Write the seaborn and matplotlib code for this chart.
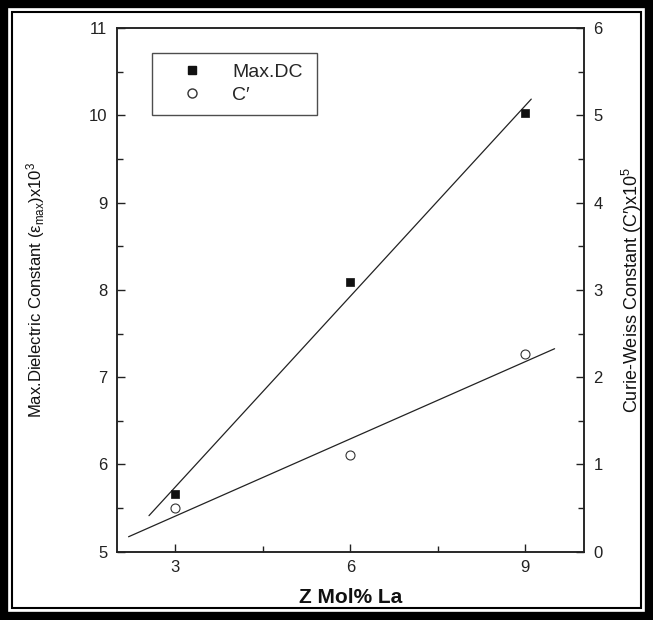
import numpy as np
import pandas as pd
import seaborn as sns
import matplotlib
matplotlib.use("Agg")
import matplotlib.pyplot as plt
from matplotlib.patches import Rectangle
from matplotlib.lines import Line2D

# ---- data ----
mol_la = [3, 6, 9]
max_dc = [5.66, 8.09, 10.03]          # left axis, x10^3
curie_c = [0.50, 1.11, 2.27]          # right axis, x10^5
fit_range_dc = [2.55, 9.1]            # extent of drawn fit line (x)
fit_range_c = [2.2, 9.5]

x_ticks = [3, 6, 9]
left_ticks = [5, 6, 7, 8, 9, 10, 11]
right_ticks = [0, 1, 2, 3, 4, 5, 6]

sns.set_style("ticks")
plt.rcParams["font.family"] = ["Liberation Sans", "DejaVu Sans"]
plt.rcParams["mathtext.default"] = "regular"

fig = plt.figure(figsize=(6.53, 6.2), dpi=100)
ax = fig.add_axes([0.179, 0.110, 0.715, 0.845])
ax2 = ax.twinx()

df_dc = pd.DataFrame({"x": mol_la, "y": max_dc})
df_c = pd.DataFrame({"x": mol_la, "y": curie_c})

# least-squares fit lines
k1, b1 = np.polyfit(mol_la, max_dc, 1)
k2, b2 = np.polyfit(mol_la, curie_c, 1)
fx1 = np.array(fit_range_dc)
fx2 = np.array(fit_range_c)
sns.lineplot(x=fx1, y=k1 * fx1 + b1, ax=ax, color="#222222", lw=0.9)
sns.lineplot(x=fx2, y=k2 * fx2 + b2, ax=ax2, color="#222222", lw=0.9)

sns.scatterplot(data=df_dc, x="x", y="y", ax=ax, marker="s", s=34,
                color="#111111", edgecolor="#111111", linewidth=0.5, zorder=5)
sns.scatterplot(data=df_c, x="x", y="y", ax=ax2, marker="o", s=42,
                facecolor="white", edgecolor="#333333", linewidth=0.8, zorder=5)

ax.set_xlim(2, 10)
ax.set_ylim(5, 11)
ax2.set_ylim(0, 6)
ax.set_xticks(x_ticks)
ax.set_xticks([4.5, 7.5], minor=True)
ax.set_yticks(left_ticks)
ax.set_yticks(np.arange(5.5, 11, 1.0), minor=True)
ax2.set_yticks(right_ticks)
ax2.set_yticks(np.arange(0.5, 6, 1.0), minor=True)

for a in (ax, ax2):
    for s in a.spines.values():
        s.set_linewidth(1.1)
        s.set_color("#222222")
    a.tick_params(which="major", direction="in", length=6, width=1.0,
                  labelsize=12, colors="#222222", pad=7)
    a.tick_params(which="minor", direction="in", length=4.5, width=1.0,
                  colors="#222222")
ax.tick_params(axis="x", pad=6)

ax.set_xlabel("Z Mol% La", fontsize=15, fontweight="bold", labelpad=9,
              color="#111111")
ax.set_ylabel("Max.Dielectric Constant (ε$_{max}$)x10$^{3}$", fontsize=12,
              labelpad=30, color="#111111")
ax2.set_ylabel("Curie-Weiss Constant (C′)x10$^{5}$", fontsize=13,
               labelpad=12, color="#111111")

handles = [
    Line2D([], [], marker="s", ls="none", color="#111111", markersize=6),
    Line2D([], [], marker="o", ls="none", markerfacecolor="white",
           markeredgecolor="#333333", markersize=6.5),
]
leg = ax.legend(handles, ["Max.DC", "C′"], loc="upper left",
                bbox_to_anchor=(0.075, 0.953, 0.353, 0.0), mode="expand",
                frameon=True, fancybox=False, edgecolor="#222222",
                fontsize=14, handlelength=3.0, handletextpad=0.57,
                borderpad=0.55, labelspacing=0.3, borderaxespad=0)
leg.get_frame().set_linewidth(1.0)

# decorative double frame around the picture
fig.patches.append(Rectangle((4 / 653, 4 / 620), 1 - 8 / 653, 1 - 8 / 620,
                             transform=fig.transFigure, fill=False,
                             edgecolor="black", lw=6.0))
fig.patches.append(Rectangle((12 / 653, 12 / 620), 1 - 24 / 653, 1 - 24 / 620,
                             transform=fig.transFigure, fill=False,
                             edgecolor="black", lw=1.5))

fig.savefig("out.png", dpi=100)
